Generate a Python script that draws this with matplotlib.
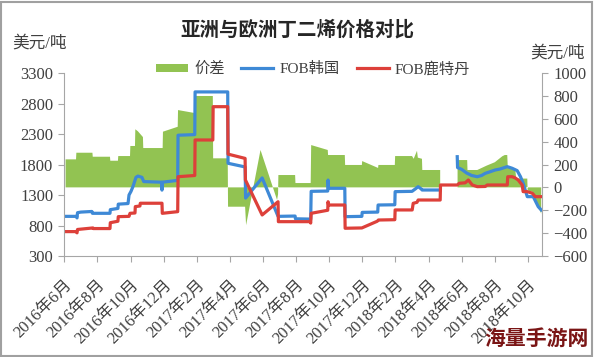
import numpy as np
import matplotlib.pyplot as plt
from matplotlib.lines import Line2D
from matplotlib.patches import Patch, Rectangle

plt.rcParams['font.family'] = ['Liberation Serif', 'Noto Sans CJK SC']

nan = np.nan

# x values: months since 2016-06
tick_pos = list(range(0, 29, 2))
tick_labels = ["2016年6月", "2016年8月", "2016年10月", "2016年12月",
               "2017年2月", "2017年4月", "2017年6月", "2017年8月",
               "2017年10月", "2017年12月", "2018年2月", "2018年4月",
               "2018年6月", "2018年8月", "2018年10月"]

# FOB韩国 (USD/t)
korea_t = [0.08, 0.71, 0.77, 0.80, 1.0, 1.67, 1.70, 2.76, 2.78, 3.24, 3.26, 3.85,
           3.91, 4.03, 4.15, 4.33, 4.45, 4.69, 4.80, 5.88, 5.90, 5.92, 6.85, 6.87,
           7.88, 7.90, 9.87, 9.89, 10.92, 10.95, 11.95, 12.91, 13.94, 13.96, 14.88,
           14.91, 15.91, 15.93, 15.96, 16.94, 16.96, 17.97, 17.99, 18.93, 18.95,
           19.96, 19.98, 21.0, 21.2, 21.37, 21.55, 21.61, 22.70, 22.71,
           23.73, 23.75, 24.0, 24.3, 24.6, 24.94, 25.2, 25.42, 25.7, 26.02, 26.3,
           26.45, 26.75, 27.05, 27.35, 27.55, 27.71, 27.96, 28.32, 28.62, 28.80]
korea_v = [950, 950, 925, 1010, 1020, 1030, 1000, 1000, 1060, 1080, 1150, 1160,
           1300, 1360, 1440, 1590, 1610, 1590, 1520, 1510, 1380, 1510, 1540, 2280,
           2290, 2990, 2990, 1820, 1760, 1250, 1580, 950, 955, 910, 905,
           1360, 1365, 1545, 1410, 1410, 945, 950, 1015, 1020, 1136,
           1140, 1355, 1360, 1400, 1437, 1400, 1382, 1382, nan,
           1928, 1750, 1720, 1660, 1620, 1600, 1620, 1655, 1680, 1710, 1725,
           1738, 1765, 1738, 1700, 1600, 1492, 1273, 1273, 1109, 1055]

# FOB鹿特丹 (USD/t)
rdam_t = [0.08, 0.71, 0.77, 0.80, 1.73, 1.75, 2.76, 2.78, 3.24, 3.26, 3.91, 3.97,
          4.27, 4.29, 4.57, 4.59, 5.90, 5.92, 6.85, 6.87, 7.88, 7.90, 8.97, 8.99,
          9.87, 9.89, 10.92, 10.94, 11.95, 12.91, 12.93, 14.85, 14.88, 14.91,
          15.91, 15.93, 15.96, 16.94, 16.96, 17.97, 18.9, 18.97, 19.96, 19.98,
          21.01, 21.07, 21.3, 21.37, 22.70, 22.72, 23.73, 23.85, 24.21, 24.40,
          24.64, 24.94, 25.42, 25.54, 26.75, 26.78, 27.05, 27.23, 27.41, 27.65,
          27.71, 27.96, 28.26, 28.44, 28.80]
rdam_v = [700, 700, 680, 735, 760, 750, 750, 846, 870, 945, 950, 1000,
          1005, 1110, 1120, 1165, 1165, 1000, 1027, 1600, 1620, 2202, 2202, 2748,
          2748, 1970, 1900, 1546, 973, 1190, 863, 863, 840, 1000,
          1050, 1190, 1136, 1136, 755, 760, 870, 890, 895, 1055,
          1055, 1164, 1180, 1218, 1218, 1464, 1464, 1492, 1500, 1546,
          1464, 1437, 1440, 1464, 1464, 1600, 1600, 1580, 1546, 1464,
          1355, 1355, 1330, 1273, 1273]

# 价差 (USD/t, right axis)
spread_t = [0.08, 0.71, 0.73, 1.70, 1.72, 2.76, 2.78, 3.24, 3.26, 3.97, 3.99, 4.27,
            4.29, 4.45, 4.75, 4.77, 5.94, 5.96, 6.85, 6.87, 7.88, 7.90, 8.97, 8.99,
            9.87, 9.89, 10.92, 10.98, 11.85, 12.85, 12.91, 12.93, 13.94, 13.96,
            14.88, 14.91, 15.91, 15.93, 16.94, 16.96, 17.97, 17.99, 18.95, 18.97,
            19.96, 19.98, 21.0, 21.1, 21.3, 21.35, 21.6, 21.62, 22.70, 22.72,
            23.73, 23.75, 24.33, 24.35, 24.94, 25.5, 26.0, 26.45, 26.6, 26.75,
            26.78, 27.23, 27.29, 27.96, 27.98, 28.3, 28.5, 28.8]
spread_v = [245, 245, 303, 303, 268, 268, 233, 233, 274, 274, 362, 362,
            508, 490, 440, 344, 344, 487, 530, 676, 650, 799, 799, 254,
            254, -169, -169, -330, 327, -110, -60, 108, 108, 38,
            38, 370, 327, 283, 283, 196, 196, 230, 170, 196,
            196, 274, 274, 250, 320, 260, 250, 152, 152, nan,
            nan, 239, 239, 152, 152, 190, 220, 272, 283, 283,
            180, 165, 77, 77, -26, -40, -120, -230]

GREEN = '#92C352'
BLUE = '#3E89D6'
RED = '#DD403A'
GRAY = '#A6A6A6'
TXT = '#404040'

fig = plt.figure(figsize=(5.94, 3.57), dpi=100)
ax = fig.add_axes([0.1082, 0.2829, 0.8043, 0.5126])
ax_l = ax.twinx()

ax.fill_between(spread_t, 0, spread_v, color=GREEN, linewidth=0)
ax.set_ylim(-600, 1000)
ax.set_yticks(range(-600, 1001, 200))
ax.yaxis.tick_right()

ax_l.plot(korea_t, korea_v, color=BLUE, lw=2.3)
ax_l.plot(rdam_t, rdam_v, color=RED, lw=2.3)
ax_l.set_ylim(300, 3300)
ax_l.set_yticks(range(300, 3301, 500))
ax_l.yaxis.tick_left()

ax.set_xlim(0, 28.85)
ax.set_xticks(tick_pos)
ax.set_xticklabels(tick_labels, rotation=45, ha='right', rotation_mode='anchor')

for a in (ax, ax_l):
    for s in a.spines.values():
        s.set_visible(False)
    a.tick_params(colors=GRAY, labelcolor=TXT, labelsize=12, direction='out', length=4)
ax.spines['bottom'].set_visible(True)
ax.spines['bottom'].set_color(GRAY)
ax.spines['right'].set_visible(True)
ax.spines['right'].set_color(GRAY)
ax_l.spines['left'].set_visible(True)
ax_l.spines['left'].set_color(GRAY)
ax.tick_params(axis='x', pad=11)
ax.tick_params(axis='y', pad=4)
ax_l.tick_params(axis='y', pad=4)

fig.text(0.5, 1 - 30 / 357, "亚洲与欧洲丁二烯价格对比", ha='center', va='center',
         fontsize=14, fontweight='bold', color='#262626',
         family=['Noto Sans CJK SC', 'DejaVu Sans'])
fig.text(12 / 594, 1 - 44 / 357, "美元/吨", ha='left', va='center', fontsize=12, color=TXT)
fig.text(585 / 594, 1 - 54 / 357, "美元/吨", ha='right', va='center', fontsize=12, color=TXT)

handles = [Patch(color=GREEN, linewidth=0),
           Line2D([], [], color=BLUE, lw=2.3),
           Line2D([], [], color=RED, lw=2.3)]
fig.legend(handles, ["价差", "FOB韩国", "FOB鹿特丹"], loc='center',
           bbox_to_anchor=(313 / 594, 1 - 69 / 357), ncol=3, frameon=False,
           fontsize=11, handlelength=2.1, handleheight=0.5, handletextpad=0.4,
           columnspacing=1.1, labelcolor=TXT)

fig.text(536 / 594, 1 - 338 / 357, "海量手游网", ha='center', va='center',
         fontsize=15, fontweight='bold', color='#7A1515',
         family=['Noto Sans CJK SC', 'DejaVu Sans'])

fig.patches.append(Rectangle((0.002, 0.004), 0.994, 0.99, transform=fig.transFigure,
                             fill=False, edgecolor='#A0A0A0', lw=1.5))

fig.savefig("out.png", dpi=100)
